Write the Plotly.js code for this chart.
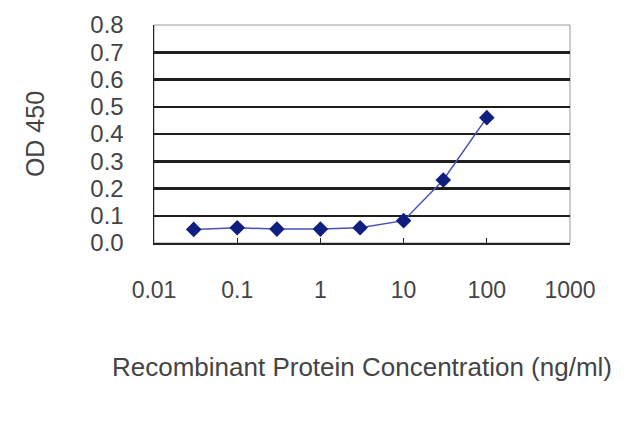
<!DOCTYPE html>
<html>
<head>
<meta charset="utf-8">
<script src="https://cdn.plot.ly/plotly-3.0.1.min.js"></script>
<style>
  html, body { margin: 0; padding: 0; background: #fff; }
  #chart { width: 640px; height: 427px; }
</style>
</head>
<body>
<div id="chart"></div>
<script>
// concentration (ng/ml) and OD 450 readings
var concentration = [0.03, 0.1, 0.3, 1, 3, 10, 30, 100];
var od450 = [0.050, 0.056, 0.051, 0.051, 0.056, 0.082, 0.231, 0.460];

var xTickVals = [0.01, 0.1, 1, 10, 100, 1000];
var xTickText = ['0.01', '0.1', '1', '10', '100', '1000'];
var yTickVals = [0, 0.1, 0.2, 0.3, 0.4, 0.5, 0.6, 0.7, 0.8];

var labelFont = {family: 'Liberation Sans, Arial, sans-serif', color: '#444'};

function drawChart() {
    var trace = {
        x: concentration,
        y: od450,
        mode: 'lines+markers',
        line: {color: '#4b4fb8', width: 1.5},
        marker: {symbol: 'diamond', size: 12, color: '#0f1f80'},
        hoverinfo: 'none'
    };

    var layout = {
        width: 640,
        height: 427,
        margin: {l: 154, r: 70, t: 25, b: 184},
        paper_bgcolor: '#fff',
        plot_bgcolor: '#fff',
        showlegend: false,
        xaxis: {
            type: 'log',
            range: [-2, 3],
            tickvals: xTickVals,
            ticktext: xTickText,
            ticks: 'inside',
            ticklen: 5,
            tickcolor: '#222',
            showline: true,
            linecolor: '#222',
            linewidth: 1.5,
            showgrid: false,
            zeroline: false,
            ticklabelstandoff: 26,
            tickfont: {family: labelFont.family, color: labelFont.color, size: 23},
            title: {
                text: 'Recombinant Protein Concentration (ng/ml)',
                font: {family: labelFont.family, color: labelFont.color, size: 26},
                standoff: 55
            }
        },
        yaxis: {
            range: [0, 0.8],
            tickvals: yTickVals,
            tickformat: '.1f',
            ticks: 'inside',
            ticklen: 5,
            tickcolor: '#222',
            showline: true,
            linecolor: '#222',
            linewidth: 1.5,
            showgrid: true,
            gridcolor: '#1e1e1e',
            gridwidth: 2.5,
            zeroline: false,
            ticklabelstandoff: 24,
            tickfont: {family: labelFont.family, color: labelFont.color, size: 24},
            title: {
                text: 'OD 450',
                font: {family: labelFont.family, color: labelFont.color, size: 25},
                standoff: 38
            }
        },
        shapes: [{
            type: 'rect',
            xref: 'paper', yref: 'paper',
            x0: 0, x1: 1, y0: 0, y1: 1,
            line: {color: '#999', width: 1},
            layer: 'below'
        }]
    };

    Plotly.newPlot('chart', [trace], layout, {displayModeBar: false, staticPlot: true});
}

window.addEventListener('load', drawChart);
</script>
</body>
</html>
